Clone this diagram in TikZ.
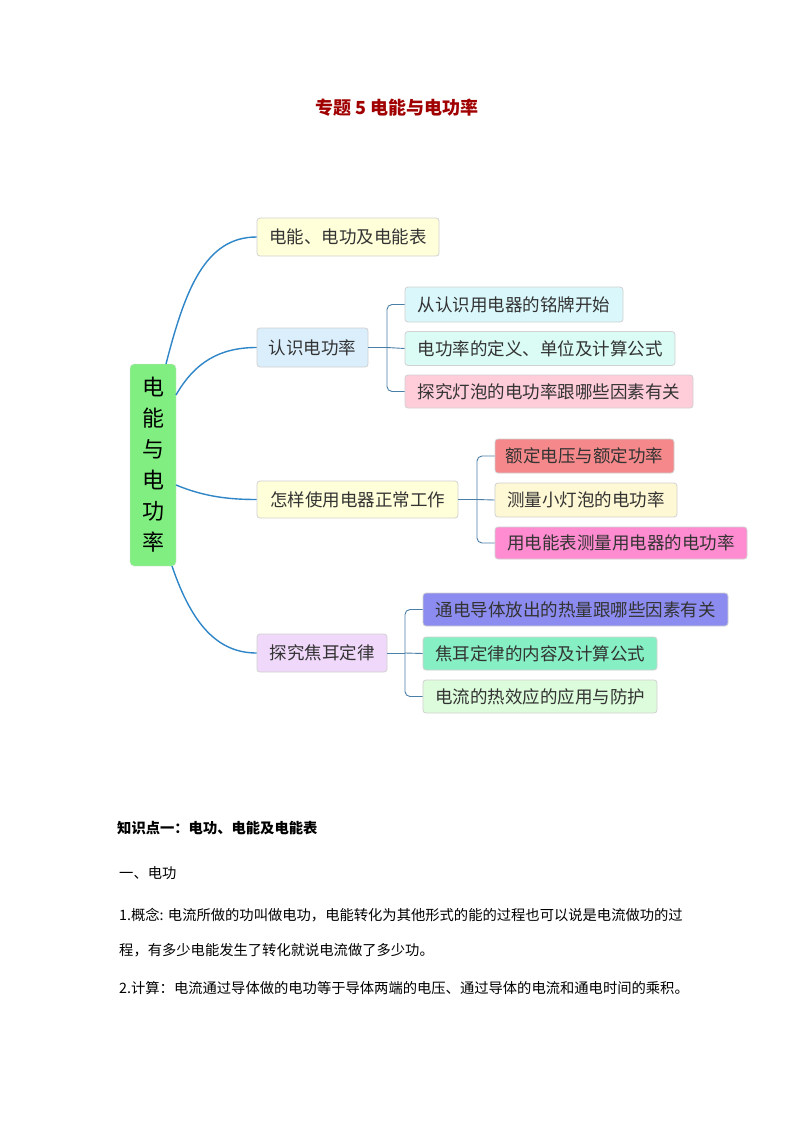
\documentclass[tikz,border=0pt]{standalone}
\usepackage{fontspec}
\setmainfont{Noto Sans CJK SC}
\definecolor{rootc}{HTML}{80EE80}
\definecolor{yel}{HTML}{FFFFDA}
\definecolor{lblue}{HTML}{DAEEFC}
\definecolor{lav}{HTML}{F0D8FA}
\definecolor{cyan1}{HTML}{DAF8FC}
\definecolor{aqua1}{HTML}{DAFCF4}
\definecolor{pink1}{HTML}{FFCCDA}
\definecolor{salm}{HTML}{F4888A}
\definecolor{cream}{HTML}{FFF8D4}
\definecolor{mag}{HTML}{FF8CD0}
\definecolor{peri}{HTML}{8C8CF0}
\definecolor{aquam}{HTML}{86F0C4}
\definecolor{lgreen}{HTML}{DCFCDC}
\definecolor{curvec}{HTML}{2E86C8}
\definecolor{brc}{HTML}{4A7FA8}
\definecolor{txt}{HTML}{333333}
\definecolor{titlec}{HTML}{A00000}
\tikzset{
  box/.style={draw=black!18, line width=0.8pt, rounded corners=3pt, inner sep=0pt,
    text=txt, font=\fontsize{17.5}{20}\selectfont},
  rootbox/.style={draw=black!10, fill=rootc, rounded corners=4pt, inner sep=0pt,
    minimum width=46pt, minimum height=202pt, align=center,
    font=\fontsize{22}{31}\selectfont},
  curve/.style={draw=curvec, line width=1.4pt},
  br/.style={draw=brc, line width=0.9pt},
  body/.style={anchor=west, inner sep=0pt, font=\fontsize{14.3}{16}\selectfont}
}
\begin{document}
\begin{tikzpicture}[x=1pt,y=-1pt]
\fill[white] (0,0) rectangle (794,1123);
\useasboundingbox (0,0) rectangle (794,1123);

\node[text=titlec, font=\fontsize{18}{20}\selectfont\bfseries] (title) at (397,108) {专题 5 电能与电功率};

\node[rootbox] (root) at (153,465) {电\\能\\与\\电\\功\\率};

\node[box, fill=yel, minimum width=182pt, minimum height=38pt] (b1) at (348,237) {电能、电功及电能表};
\node[box, fill=lblue, minimum width=111pt, minimum height=39pt] (b2) at (312.5,347.5) {认识电功率};
\node[box, fill=yel, minimum width=201pt, minimum height=37pt] (b3) at (357.5,499.5) {怎样使用电器正常工作};
\node[box, fill=lav, minimum width=130pt, minimum height=38pt] (b4) at (322,653) {探究焦耳定律};

\node[box, fill=cyan1, minimum width=218pt, minimum height=35pt] (s21) at (514,304.5) {从认识用电器的铭牌开始};
\node[box, fill=aqua1, minimum width=270pt, minimum height=34pt] (s22) at (540,348.5) {电功率的定义、单位及计算公式};
\node[box, fill=pink1, minimum width=288pt, minimum height=33pt] (s23) at (549,391.5) {探究灯泡的电功率跟哪些因素有关};

\node[box, fill=salm, minimum width=179pt, minimum height=34pt] (s31) at (584.5,456) {额定电压与额定功率};
\node[box, fill=cream, minimum width=182pt, minimum height=34pt] (s32) at (586,500) {测量小灯泡的电功率};
\node[box, fill=mag, minimum width=252pt, minimum height=32pt] (s33) at (621,543) {用电能表测量用电器的电功率};

\node[box, fill=peri, minimum width=305pt, minimum height=33pt] (s41) at (575.5,609.5) {通电导体放出的热量跟哪些因素有关};
\node[box, fill=aquam, minimum width=234pt, minimum height=33pt] (s42) at (540,653.5) {焦耳定律的内容及计算公式};
\node[box, fill=lgreen, minimum width=234pt, minimum height=33pt] (s43) at (540,696.5) {电流的热效应的应用与防护};

% main curves
\coordinate (r1) at (166,364);
\coordinate (r2) at (176,395);
\coordinate (r3) at (176,485);
\coordinate (r4) at (172,566);
\draw[curve] (r1) .. controls (185,290) and (205,237) .. (b1.west);
\draw[curve] (r2) .. controls (195,362) and (220,347.5) .. (b2.west);
\draw[curve] (r3) .. controls (205,497) and (230,499.5) .. (b3.west);
\draw[curve] (r4) .. controls (192,625) and (218,653) .. (b4.west);

% brackets
\coordinate (j2) at (387,347.5);
\draw[br] (b2.east) -- (j2);
\draw[br, rounded corners=5pt] (j2) |- (s21.west);
\draw[br] (j2) -- (s22.west);
\draw[br, rounded corners=5pt] (j2) |- (s23.west);

\coordinate (j3) at (477,499.5);
\draw[br] (b3.east) -- (j3);
\draw[br, rounded corners=5pt] (j3) |- (s31.west);
\draw[br] (j3) -- (s32.west);
\draw[br, rounded corners=5pt] (j3) |- (s33.west);

\coordinate (j4) at (405,653);
\draw[br] (b4.east) -- (j4);
\draw[br, rounded corners=5pt] (j4) |- (s41.west);
\draw[br] (j4) -- (s42.west);
\draw[br, rounded corners=5pt] (j4) |- (s43.west);

% body text
\node[body, font=\fontsize{14.3}{16}\selectfont\bfseries] (h1) at (117,828) {知识点一：电功、电能及电能表};
\node[body] (h2) at (119,873) {一、电功};
\node[body] (p1) at (119,915) {1.概念: 电流所做的功叫做电功，电能转化为其他形式的能的过程也可以说是电流做功的过};
\node[body] (p2) at (119,950) {程，有多少电能发生了转化就说电流做了多少功。};
\node[body] (p3) at (119,988) {2.计算：电流通过导体做的电功等于导体两端的电压、通过导体的电流和通电时间的乘积。};
\end{tikzpicture}
\end{document}
